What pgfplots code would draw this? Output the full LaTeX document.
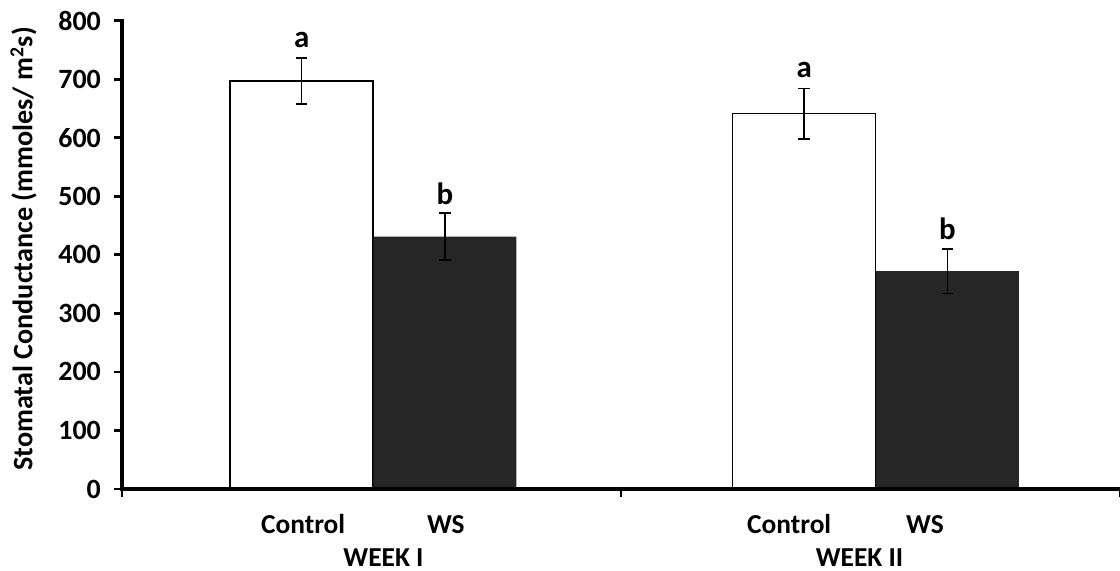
\documentclass[border=0pt]{standalone}
\usepackage{fontspec}
\setmainfont{Carlito}
\usepackage{pgfplots}
\pgfplotsset{compat=1.18}
\definecolor{wsfill}{HTML}{262626}

\begin{document}
\begin{tikzpicture}
\begin{axis}[
  scale only axis, width=998bp, height=468.3bp,
  xmin=0, xmax=2, ymin=0, ymax=800,
  axis x line*=bottom, axis y line*=left,
  axis line style={line width=3.6bp, black},
  ytick={0,100,...,800},
  xtick={0,1,2}, xticklabels={},
  tick align=outside, major tick length=8bp,
  major tick style={line width=2.8bp, black},
  /pgf/number format/assume math mode=true,
  yticklabel style={font=\bfseries\fontsize{28}{28}\selectfont, inner sep=2bp, xshift=-11bp},
  ylabel={Stomatal Conductance (mmoles/ m\textsuperscript{2}s)},
  every axis y label/.style={at={(rel axis cs:-0.0987,0.5125)}, rotate=90, anchor=center,
    font=\bfseries\fontsize{28.3}{28.3}\selectfont},
  clip=false,
  error bars/error bar style={line width=1.6bp, black},
  error bars/error mark options={rotate=90, mark size=5.7bp, line width=1.6bp, black},
]
% Control
\addplot[ybar, bar shift=0pt, bar width=0.2866, fill=white, draw=black, line width=1.4bp,
  error bars/.cd, y dir=both, y explicit]
  coordinates {(0.360,697) +- (0,39) (1.367,641) +- (0,43)};
% Water stress
\addplot[ybar, bar shift=0pt, bar width=0.2866, fill=wsfill, draw=none,
  error bars/.cd, y dir=both, y explicit]
  coordinates {(0.647,431) +- (0,40) (1.654,372) +- (0,38)};

% heavy axis lines over the bars
\draw[line width=3.6bp, line cap=rect] (rel axis cs:0,1) -- (rel axis cs:0,0) -- (rel axis cs:1,0);

% significance letters
\begin{scope}[every node/.style={font=\bfseries\fontsize{31}{31}\selectfont, anchor=base}]
\node at (axis cs:0.360,736) [yshift=11bp] {a};
\node at (axis cs:0.647,471) [yshift=9bp] {b};
\node at (axis cs:1.367,684) [yshift=11bp] {a};
\node at (axis cs:1.654,410) [yshift=9bp] {b};
\end{scope}

% category and week labels
\begin{scope}[every node/.style={font=\bfseries\fontsize{27.5}{27.5}\selectfont, anchor=base}]
\node at (axis cs:0.363,0) [yshift=-44bp] {Control};
\node at (axis cs:0.649,0) [yshift=-44bp] {WS};
\node at (axis cs:1.337,0) [yshift=-44bp] {Control};
\node at (axis cs:1.609,0) [yshift=-44bp] {WS};
\node at (axis cs:0.524,0) [yshift=-77bp] {WEEK I};
\node at (axis cs:1.478,0) [yshift=-77bp] {WEEK II};
\end{scope}
\end{axis}
\pgfresetboundingbox
\path (-122bp,-82bp) rectangle (998bp,489bp);
\end{tikzpicture}
\end{document}
